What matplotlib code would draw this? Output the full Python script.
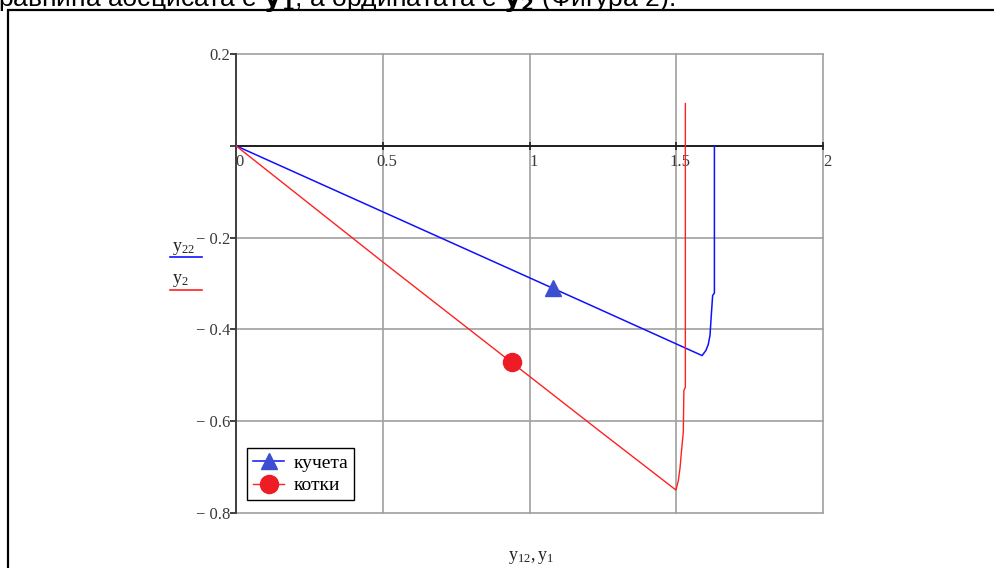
import numpy as np
import matplotlib
matplotlib.use("Agg")
import matplotlib.pyplot as plt
from matplotlib.lines import Line2D
from matplotlib.patches import Rectangle
import matplotlib.transforms as mtransforms

plt.rcParams['font.family'] = ['Liberation Serif', 'DejaVu Serif']
plt.rcParams['mathtext.fontset'] = 'custom'
plt.rcParams['mathtext.rm'] = 'Liberation Serif'
plt.rcParams['mathtext.it'] = 'Liberation Serif'

# dogs (кучета): y22 vs y12
dog_x = [0.0, 1.20, 1.588, 1.601, 1.609, 1.615, 1.619, 1.624, 1.630, 1.630]
dog_y = [0.0, -0.345, -0.457, -0.446, -0.433, -0.413, -0.373, -0.326, -0.321, 0.0]
# cats (котки): y2 vs y1
cat_x = [0.0, 0.50, 1.24, 1.499, 1.507, 1.513, 1.518, 1.524, 1.526, 1.531, 1.531]
cat_y = [0.0, -0.253, -0.622, -0.750, -0.730, -0.701, -0.664, -0.624, -0.533, -0.526, 0.092]

dog_mark = (1.080, -0.310)
cat_mark = (0.940, -0.472)

xticks = [0, 0.5, 1, 1.5, 2]
xtick_labels = ['0', '0.5', '1', '1.5', '2']
yticks = [0.2, 0, -0.2, -0.4, -0.6, -0.8]
ytick_labels = ['0.2', '', '\u2212 0.2', '\u2212 0.4', '\u2212 0.6', '\u2212 0.8']
legend_names = ['кучета', 'котки']

W, H = 994, 568
fig = plt.figure(figsize=(W / 100, H / 100), dpi=100)
ax = fig.add_axes([236 / W, (H - 513) / H, (823 - 236) / W, (513 - 54) / H])

ax.set_xlim(0, 2)
ax.set_ylim(-0.8, 0.2)

ax.plot(dog_x, dog_y, color='#1010ff', lw=1.1, zorder=3)
ax.plot(cat_x, cat_y, color='#ff2020', lw=1.0, zorder=3)
ax.plot(*dog_mark, marker='^', ms=12, color='#3b4fd0', zorder=4)
ax.plot(*cat_mark, marker='o', ms=13, color='#ee1c25', zorder=4)

# grid and axes in the mathcad look
ax.grid(True, color='#a0a0a0', lw=1.2, clip_on=False)
ax.set_axisbelow(True)
for s in ['top', 'right']:
    ax.spines[s].set_visible(False)
ax.spines['bottom'].set_position(('data', 0))
ax.spines['bottom'].set_color('#202020')
ax.spines['bottom'].set_linewidth(1.4)
ax.spines['bottom'].set_zorder(2)
ax.spines['left'].set_color('#404040')
ax.spines['left'].set_linewidth(1.4)

ax.set_xticks(xticks)
ax.set_xticklabels(xtick_labels)
ax.set_yticks(yticks)
ax.set_yticklabels(ytick_labels)
ax.tick_params(axis='x', direction='inout', length=6, width=1.2, pad=3,
               labelsize=12, labelcolor='#3a3a3a', color='#202020')
ax.tick_params(axis='y', direction='out', length=4, width=1.2, pad=0,
               labelsize=12, labelcolor='#3a3a3a', color='#202020')
off = mtransforms.ScaledTranslation(4 / 100, 0, fig.dpi_scale_trans)
for lab in ax.get_xticklabels():
    lab.set_transform(lab.get_transform() + off)

# legend
handles = [Line2D([], [], color='#1010ff', lw=1.1, marker='^', ms=12,
                  markerfacecolor='#3b4fd0', markeredgecolor='#3b4fd0'),
           Line2D([], [], color='#ff2020', lw=1.0, marker='o', ms=13,
                  markerfacecolor='#ee1c25', markeredgecolor='#ee1c25')]
leg = ax.legend(handles, legend_names, loc='lower left',
                bbox_to_anchor=(0.019, 0.028), borderaxespad=0, fontsize=14,
                fancybox=False, edgecolor='black', framealpha=1,
                handlelength=1.6, handletextpad=0.5, borderpad=0.3,
                labelspacing=0.25)
leg.get_frame().set_linewidth(1.0)

# y-axis labels at left, underlined in series colour
fig.text(172 / W, (H - 251) / H, r'$\mathrm{y_{22}}$', fontsize=13, color='#222222')
fig.add_artist(Line2D([170 / W, 202 / W], [(H - 257) / H] * 2, color='#1010ff', lw=1.2))
fig.text(172 / W, (H - 283) / H, r'$\mathrm{y_{2}}$', fontsize=13, color='#222222')
fig.add_artist(Line2D([170 / W, 202 / W], [(H - 290) / H] * 2, color='#ff2020', lw=1.2))

# x-axis label
fig.text(531 / W, (H - 560) / H, r'$\mathrm{y_{12},y_{1}}$', fontsize=13,
         color='#222222', ha='center', va='baseline')

# outer frame and cut-off text above it
fig.add_artist(Rectangle((8 / W, -0.1), 1.2, (H - 10) / H + 0.1,
                         transform=fig.transFigure, fill=False,
                         edgecolor='black', lw=1.6, clip_on=False))
fig.text(-2 / W, (H - 6) / H,
         'равнина абсцисата е $\\mathbf{y_1}$, а ординатата е $\\mathbf{y_2}$ (Фигура 2).',
         fontsize=19, family=['Liberation Sans', 'DejaVu Sans'],
         math_fontfamily='dejavusans', va='baseline', color='black')

fig.savefig('out.png', dpi=100)
